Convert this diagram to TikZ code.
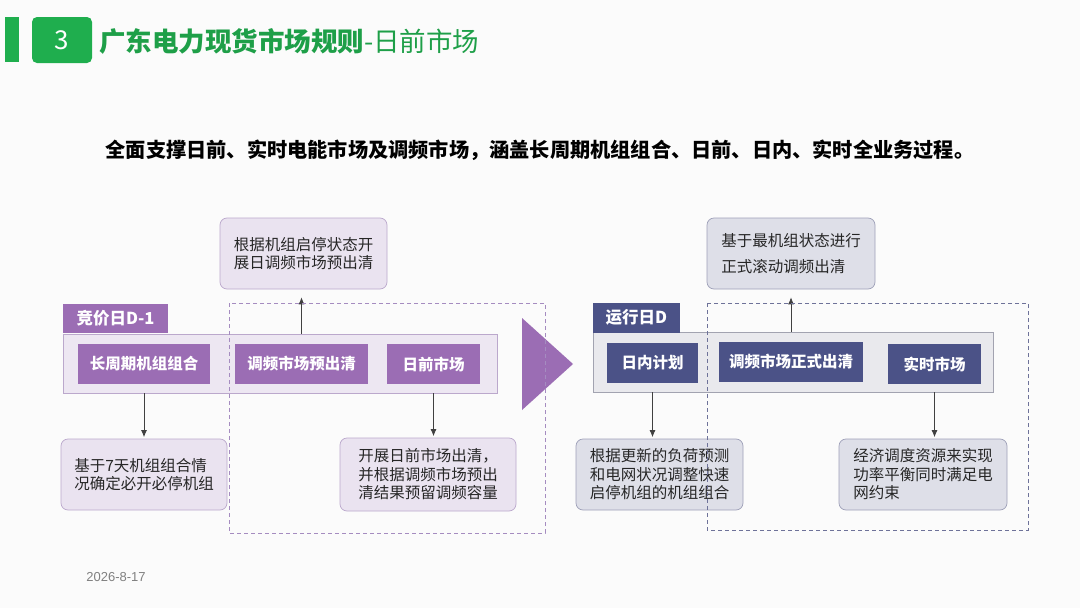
\documentclass[tikz,border=0pt]{standalone}
\usepackage{fontspec}
\setmainfont{Noto Sans CJK SC}
\newfontfamily\datefont{Liberation Sans}
\usetikzlibrary{arrows.meta}
\definecolor{gbar}{HTML}{1FAE4E}
\definecolor{gtext}{HTML}{1E9F48}
\definecolor{pur}{HTML}{9B6DB4}
\definecolor{purband}{HTML}{EDE7F2}
\definecolor{purline}{HTML}{BBA8CC}
\definecolor{purdesc}{HTML}{EAE3F0}
\definecolor{purdash}{HTML}{A58CC0}
\definecolor{navy}{HTML}{4B5287}
\definecolor{navband}{HTML}{E9E9ED}
\definecolor{navline}{HTML}{A2A3B0}
\definecolor{navdesc}{HTML}{DEDFE8}
\definecolor{navdescline}{HTML}{9EA0B8}
\definecolor{navdash}{HTML}{6E7299}
\definecolor{bg}{HTML}{FBFBFB}
\tikzset{
  lab/.style={text=white, inner sep=0pt, font=\bfseries\fontsize{15.5}{18}\selectfont},
  plab/.style={lab, fill=pur},
  nlab/.style={lab, fill=navy},
  band/.style={inner sep=0pt, line width=0.8pt},
  desc/.style={rounded corners=7pt, line width=0.7pt, align=left, inner sep=0pt,
    font=\fontsize{15.5}{18.5}\selectfont, text=black!85},
  arr/.style={draw=black!75, line width=0.8pt, -{Latex[length=7pt,width=6pt]}},
  dashbox/.style={line width=0.9pt, dash pattern=on 4pt off 3pt},
}
\begin{document}
\begin{tikzpicture}[x=1pt,y=-1pt]
\useasboundingbox (0,0) rectangle (1080,608);
\fill[bg] (0,0) rectangle (1080,608);

% title
\fill[gbar] (5,17) rectangle (19,62);
\node[fill=gbar, rounded corners=5pt, minimum width=60pt, minimum height=46pt, inner sep=0pt,
  text=white, font=\fontsize{26}{28}\selectfont] (num) at (62,40) {3};
\node[anchor=west, inner sep=0pt, text=gtext, font=\fontsize{26.5}{28}\selectfont] (title) at (99,41)
  {\textbf{广东电力现货市场规则}-日前市场};

% subtitle
\node[inner sep=0pt, font=\bfseries\fontsize{20.2}{24}\selectfont, text=black] (sub) at (540,150)
  {全面支撑日前、实时电能市场及调频市场，涵盖长周期机组组合、日前、日内、实时全业务过程。};

% ---------- left: D-1 ----------
\node[band, fill=purband, draw=purline, minimum width=434pt, minimum height=59pt] (bandL) at (280,363.5) {};
\node[plab, minimum width=105pt, minimum height=29pt, font=\bfseries\fontsize{16.5}{18}\selectfont] (tabL) at (115.5,318.5) {竞价日D-1};
\node[plab, minimum width=132pt, minimum height=40pt] (b1) at (144,364) {长周期机组组合};
\node[plab, minimum width=133pt, minimum height=40pt] (b2) at (301.5,364) {调频市场预出清};
\node[plab, minimum width=93pt, minimum height=40pt] (b3) at (433.5,364) {日前市场};

\node[desc, fill=purdesc, draw=purline, minimum width=167pt, minimum height=71pt] (topL) at (303.5,253.5)
  {根据机组启停状态开\\展日调频市场预出清};
\node[desc, fill=purdesc, draw=purline, minimum width=166pt, minimum height=71pt] (botL1) at (144,474.5)
  {基于7天机组组合情\\况确定必开必停机组};
\node[desc, fill=purdesc, draw=purline, minimum width=176pt, minimum height=73pt] (botL2) at (428,474.5)
  {开展日前市场出清，\\并根据调频市场预出\\清结果预留调频容量};

\draw[arr, shorten >=8pt] (bandL.north -| b2.north) -- (b2.north |- topL.south);
\draw[arr, shorten >=1.5pt] (bandL.south -| b1.south) -- (b1.south |- botL1.north);
\draw[arr, shorten >=1.5pt] (bandL.south -| b3.south) -- (b3.south |- botL2.north);

% big arrow
\fill[pur] (522,318) -- (573,364) -- (522,410) -- cycle;

% ---------- right: D ----------
\node[band, fill=navband, draw=navline, minimum width=400pt, minimum height=60pt] (bandR) at (793,362) {};
\node[nlab, minimum width=87pt, minimum height=30pt, font=\bfseries\fontsize{16.5}{18}\selectfont] (tabR) at (636.5,317.5) {运行日D};
\node[nlab, minimum width=91pt, minimum height=40pt] (r1) at (652.5,363) {日内计划};
\node[nlab, minimum width=144pt, minimum height=40pt] (r2) at (791,362) {调频市场正式出清};
\node[nlab, minimum width=93pt, minimum height=40pt] (r3) at (934.5,364) {实时市场};

\node[desc, fill=navdesc, draw=navdescline, minimum width=168pt, minimum height=71pt,
  font=\fontsize{15.5}{26}\selectfont] (topR) at (791,253.5)
  {基于最机组状态进行\\正式滚动调频出清};
\node[desc, fill=navdesc, draw=navdescline, minimum width=167pt, minimum height=71pt] (botR1) at (659.5,474.5)
  {根据更新的负荷预测\\和电网状况调整快速\\启停机组的机组组合};
\node[desc, fill=navdesc, draw=navdescline, minimum width=168pt, minimum height=71pt] (botR2) at (923,474.5)
  {经济调度资源来实现\\功率平衡同时满足电\\网约束};

\draw[arr, shorten >=8pt] (bandR.north -| r2.north) -- (r2.north |- topR.south);
\draw[arr, shorten >=1.5pt] (bandR.south -| r1.south) -- (r1.south |- botR1.north);
\draw[arr, shorten >=1.5pt] (bandR.south -| r3.south) -- (r3.south |- botR2.north);

% dashed frames
\draw[dashbox, draw=purdash] (229,303) rectangle (545,533);
\draw[dashbox, draw=navdash] (707,303) rectangle (1028,530);

% date
\node[inner sep=0pt, text=black!50, font=\datefont\fontsize{13}{15}\selectfont] (date) at (116,577) {2026-8-17};
\end{tikzpicture}
\end{document}
